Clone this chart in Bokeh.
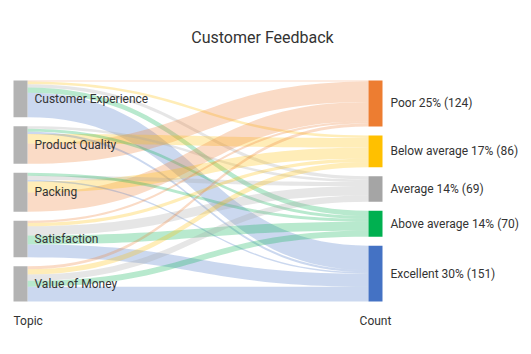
import numpy as np
from bokeh.plotting import figure
from bokeh.models import Range1d, ColumnDataSource
from bokeh.core.properties import value
from bokeh.embed import file_html
from bokeh.resources import INLINE

# ---- data ----
sources = ["Customer Experience", "Product Quality", "Packing", "Satisfaction", "Value of Money"]
targets = ["Poor", "Below average", "Average", "Above average", "Excellent"]
# flow from each source to each target (in target order)
flow_ce = [3, 7, 9, 14, 66]
flow_pq = [55, 26, 7, 8, 6]
flow_pk = [52, 30, 11, 8, 4]
flow_sa = [6, 9, 25, 24, 35]
flow_vm = [8, 14, 17, 16, 40]
flows = [flow_ce, flow_pq, flow_pk, flow_sa, flow_vm]
# order in which each source stacks its outgoing links (top to bottom)
stack_order = [[0, 1, 2, 3, 4], [2, 3, 4, 1, 0], [3, 2, 4, 1, 0], [0, 1, 2, 3, 4], [0, 1, 2, 3, 4]]
target_colors = ["#ED7D31", "#FFC000", "#A5A5A5", "#00B050", "#4472C4"]
title = "Customer Feedback"
left_header = "Topic"
right_header = "Count"

# ---- layout ----
W, H = 531, 354
top, bottom = 80.0, 301.0
xl0, xl1 = 13.0, 27.0
xr0, xr1 = 368.0, 382.0
gap = 9.0

F = np.array(flows, dtype=float)
src_tot = F.sum(axis=1)
tgt_tot = F.sum(axis=0)
total = F.sum()
k = (bottom - top - gap * (len(sources) - 1)) / total

src_top = top + np.concatenate([[0], np.cumsum(src_tot[:-1] * k + gap)])
tgt_top = top + np.concatenate([[0], np.cumsum(tgt_tot[:-1] * k + gap)])

p = figure(width=W, height=H, output_backend="svg", toolbar_location=None,
           x_range=Range1d(0, W), y_range=Range1d(H, 0), min_border=0)
p.axis.visible = False
p.grid.visible = False
p.outline_line_color = None
p.background_fill_color = "white"
p.border_fill_color = "white"

# link offsets at source
src_off = {}
for i in range(len(sources)):
    y = src_top[i]
    for j in stack_order[i]:
        src_off[(i, j)] = y
        y += F[i, j] * k
# link offsets at target (sources in order top to bottom)
tgt_off = {}
for j in range(len(targets)):
    y = tgt_top[j]
    for i in range(len(sources)):
        tgt_off[(i, j)] = y
        y += F[i, j] * k

t = np.linspace(0, 1, 40)
def bez(x0, y0, x1, y1):
    xm = (x0 + x1) / 2
    bx = (1-t)**3*x0 + 3*(1-t)**2*t*xm + 3*(1-t)*t**2*xm + t**3*x1
    by = (1-t)**3*y0 + 3*(1-t)**2*t*y0 + 3*(1-t)*t**2*y1 + t**3*y1
    return bx, by

xs, ys, cols = [], [], []
for i in range(len(sources)):
    for j in range(len(targets)):
        w = F[i, j] * k
        if w <= 0:
            continue
        y0 = src_off[(i, j)]
        y1 = tgt_off[(i, j)]
        tx, ty = bez(xl1, y0, xr0, y1)
        bx, by = bez(xr0, y1 + w, xl1, y0 + w)
        xs.append(list(tx) + list(bx))
        ys.append(list(ty) + list(by))
        cols.append(target_colors[j])

p.patches(xs=xs, ys=ys, fill_color=cols, fill_alpha=0.28, line_color=None)

# nodes
p.quad(left=[xl0]*len(sources), right=[xl1]*len(sources),
       top=list(src_top), bottom=list(src_top + src_tot * k),
       fill_color="#B3B3B3", line_color=None)
p.quad(left=[xr0]*len(targets), right=[xr1]*len(targets),
       top=list(tgt_top), bottom=list(tgt_top + tgt_tot * k),
       fill_color=target_colors, line_color=None)

font = value("Roboto")
# left labels
p.text(x=[34]*len(sources), y=list(src_top + src_tot * k / 2), text=sources,
       text_font=font, text_font_size="12px", text_color="#333333",
       text_baseline="middle", text_align="left")
# right labels
rlabels = [f"{n} {round(v / total * 100):.0f}% ({int(v)})" for n, v in zip(targets, tgt_tot)]
p.text(x=[390]*len(targets), y=list(tgt_top + tgt_tot * k / 2), text=rlabels,
       text_font=font, text_font_size="12px", text_color="#333333",
       text_baseline="middle", text_align="left")
# headers
p.text(x=[xl0], y=[320], text=[left_header], text_font=font, text_font_size="12px",
       text_color="#333333", text_baseline="middle", text_align="left")
p.text(x=[(xr0 + xr1) / 2], y=[320], text=[right_header], text_font=font, text_font_size="12px",
       text_color="#333333", text_baseline="middle", text_align="center")
# title
p.text(x=[262], y=[37], text=[title], text_font=font, text_font_size="16px",
       text_color="#333333", text_baseline="middle", text_align="center", text_font_style="normal")

open("out.html", "w").write(file_html(p, INLINE))
